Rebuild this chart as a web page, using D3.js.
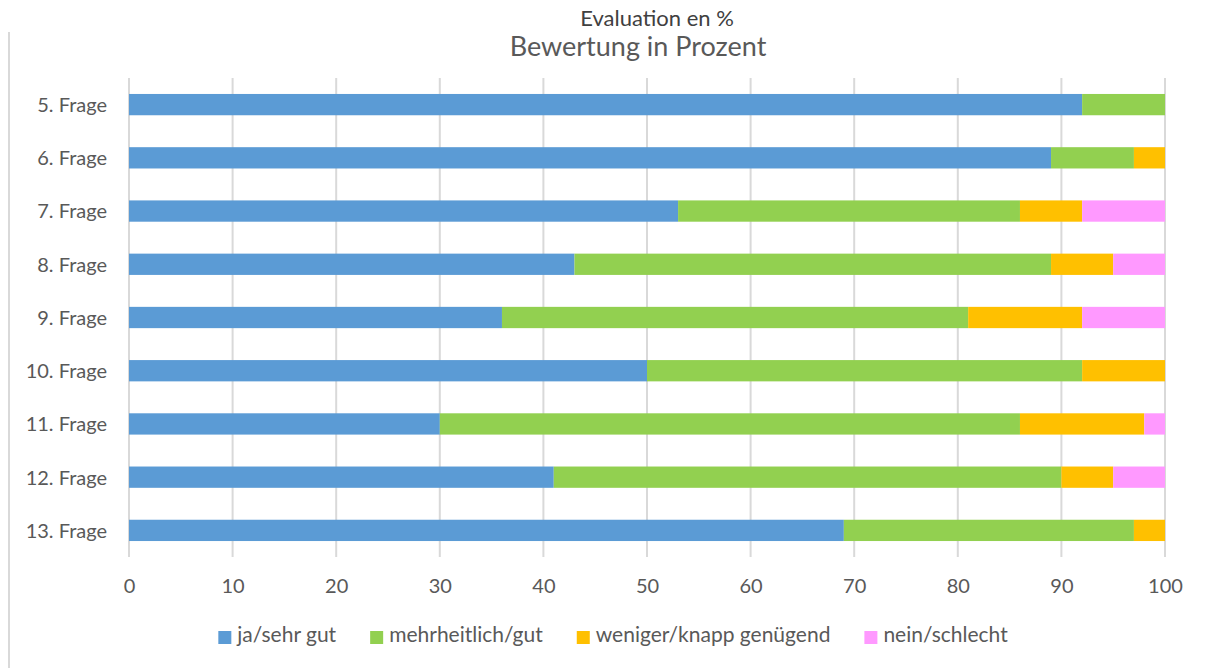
<!DOCTYPE html>
<html>
<head>
<meta charset="utf-8">
<script src="https://cdn.jsdelivr.net/npm/d3@7"></script>
<style>
  body { margin: 0; background: #fff; }
  text { font-family: Lato, "Open Sans", sans-serif; }
</style>
</head>
<body>
<div id="chart"></div>
<script>
// questions, top to bottom
let questions = ["5. Frage", "6. Frage", "7. Frage", "8. Frage", "9. Frage",
                 "10. Frage", "11. Frage", "12. Frage", "13. Frage"];

// percent per answer category
let jaSehrGut      = [92, 89, 53, 43, 36, 50, 30, 41, 69];
let mehrheitlich   = [8, 8, 33, 46, 45, 42, 56, 49, 28];
let wenigerKnapp   = [0, 3, 6, 6, 11, 8, 12, 5, 3];
let neinSchlecht   = [0, 0, 8, 5, 8, 0, 2, 5, 0];

let seriesNames = ["ja/sehr gut", "mehrheitlich/gut", "weniger/knapp genügend", "nein/schlecht"];
let seriesColors = ["#5B9BD5", "#92D050", "#FFC000", "#FF99FF"];
let xTicks = [0, 10, 20, 30, 40, 50, 60, 70, 80, 90, 100];

let width = 1207, height = 668;
let margin = {top: 78, right: 42, bottom: 111, left: 129};

let svg = d3.select("#chart").append("svg")
    .attr("width", width)
    .attr("height", height);

// thin frame line on the left
svg.append("line")
    .attr("x1", 9).attr("x2", 9)
    .attr("y1", 32).attr("y2", height)
    .attr("stroke", "#d9d9d9")
    .attr("stroke-width", 2);

// titles
svg.append("text")
    .attr("x", 657).attr("y", 26)
    .attr("text-anchor", "middle")
    .attr("fill", "#404040")
    .attr("font-size", 22)
    .text("Evaluation en %");

svg.append("text")
    .attr("x", 638).attr("y", 56)
    .attr("text-anchor", "middle")
    .attr("fill", "#595959")
    .attr("font-size", 27)
    .text("Bewertung in Prozent");

let xScale = d3.scaleLinear()
    .domain([0, 100])
    .range([margin.left, width - margin.right]);

let yScale = d3.scaleBand()
    .domain(questions)
    .range([margin.top, height - margin.bottom])
    .paddingInner(0.6)
    .paddingOuter(0.3);

// gridlines
svg.append("g")
    .selectAll("line")
    .data(xTicks)
    .join("line")
    .attr("x1", d => xScale(d)).attr("x2", d => xScale(d))
    .attr("y1", margin.top).attr("y2", height - margin.bottom)
    .attr("stroke", "#d9d9d9")
    .attr("stroke-width", 2);

// stack the data
let rows = questions.map((q, i) => ({
    q: q,
    "ja/sehr gut": jaSehrGut[i],
    "mehrheitlich/gut": mehrheitlich[i],
    "weniger/knapp genügend": wenigerKnapp[i],
    "nein/schlecht": neinSchlecht[i]
}));
let stacked = d3.stack().keys(seriesNames)(rows);

svg.append("g")
    .selectAll("g")
    .data(stacked)
    .join("g")
    .attr("fill", (d, i) => seriesColors[i])
    .selectAll("rect")
    .data(d => d)
    .join("rect")
    .attr("x", d => xScale(d[0]))
    .attr("y", d => yScale(d.data.q))
    .attr("width", d => xScale(d[1]) - xScale(d[0]))
    .attr("height", yScale.bandwidth());

// x axis labels
let xAxis = svg.append("g")
    .attr("transform", `translate(0,${height - margin.bottom})`)
    .call(d3.axisBottom(xScale).tickValues(xTicks).tickSize(0).tickPadding(22));
xAxis.select(".domain").remove();
xAxis.selectAll("text")
    .attr("fill", "#595959")
    .attr("font-size", 20)
    .style("font-family", "Lato, 'Open Sans', sans-serif");

// y axis labels
let yAxis = svg.append("g")
    .attr("transform", `translate(${margin.left - 22},1)`)
    .call(d3.axisLeft(yScale).tickSize(0).tickPadding(0));
yAxis.select(".domain").remove();
yAxis.selectAll("text")
    .attr("fill", "#595959")
    .attr("font-size", 20)
    .style("font-family", "Lato, 'Open Sans', sans-serif");

// legend, laid out left to right and centred
let legend = svg.append("g");
let items = legend.selectAll("g")
    .data(seriesNames)
    .join("g");
items.append("rect")
    .attr("y", -11)
    .attr("width", 13).attr("height", 13)
    .attr("fill", (d, i) => seriesColors[i]);
items.append("text")
    .attr("x", 19)
    .attr("fill", "#595959")
    .attr("font-size", 21)
    .text(d => d);

let cursor = 0;
items.each(function () {
    let w = d3.select(this).select("text").node().getComputedTextLength();
    d3.select(this).attr("transform", `translate(${cursor},0)`);
    cursor += 19 + w + 34;
});
let legendWidth = cursor - 34;
legend.attr("transform", `translate(${613 - legendWidth / 2},642)`);
</script>
</body>
</html>
